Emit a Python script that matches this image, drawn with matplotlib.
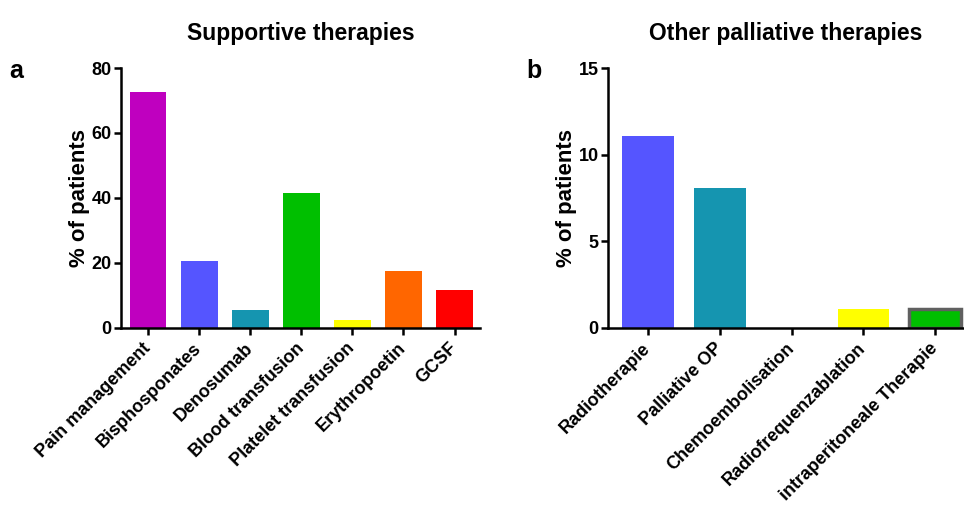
import matplotlib.pyplot as plt

plt.rcParams['font.family'] = ['Liberation Sans', 'DejaVu Sans']
plt.rcParams['font.weight'] = 'bold'

# Panel a: supportive therapies
supportive = ['Pain management', 'Bisphosponates', 'Denosumab', 'Blood transfusion',
              'Platelet transfusion', 'Erythropoetin', 'GCSF']
supportive_pct = [72.5, 20.5, 5.5, 41.4, 2.4, 17.6, 11.6]
supportive_colors = ['#BF00BF', '#5555FF', '#1595B0', '#00BF00', '#FFFF00', '#FF6600', '#FF0000']

# Panel b: other palliative therapies
palliative = ['Radiotherapie', 'Palliative OP', 'Chemoembolisation',
              'Radiofrequenzablation', 'intraperitoneale Therapie']
palliative_pct = [11.1, 8.1, 0, 1.1, 1.1]
palliative_colors = ['#5555FF', '#1595B0', '#FF0000', '#FFFF00', '#00BF00']
palliative_edges = ['none', 'none', 'none', 'none', '#606060']

fig = plt.figure(figsize=(9.64, 5.16), dpi=100)
ax1 = fig.add_axes([0.126, 0.365, 0.372, 0.503])
ax2 = fig.add_axes([0.631, 0.365, 0.369, 0.503])


def style_axis(ax, labels):
    for side in ['top', 'right']:
        ax.spines[side].set_visible(False)
    for side in ['left', 'bottom']:
        ax.spines[side].set_linewidth(1.8)
    ax.tick_params(width=1.8, length=5, labelsize=13, pad=2)
    ax.set_xticks(range(len(labels)))
    ax.set_xticklabels(labels, rotation=45, ha='right', va='center',
                       rotation_mode='anchor', fontsize=13)
    ax.tick_params(axis='x', pad=8)
    ax.set_ylabel('% of patients', fontsize=16, fontweight='bold')
    ax.yaxis.set_label_coords(-0.088, 0.5)


ax1.bar(range(len(supportive)), supportive_pct, width=0.72, color=supportive_colors)
ax1.set_xlim(-0.52, 6.5)
ax1.set_ylim(0, 80)
ax1.set_yticks([0, 20, 40, 60, 80])
style_axis(ax1, supportive)
ax1.set_title('Supportive therapies', fontsize=16.5, fontweight='bold', pad=20)

ax2.bar(range(len(palliative)), palliative_pct, width=0.72, color=palliative_colors,
        edgecolor=palliative_edges, linewidth=2.5)
ax2.set_xlim(-0.55, 4.4)
ax2.set_ylim(0, 15)
ax2.set_yticks([0, 5, 10, 15])
style_axis(ax2, palliative)
ax2.set_title('Other palliative therapies', fontsize=16.5, fontweight='bold', pad=20)

fig.text(0.010, 0.848, 'a', fontsize=18, fontweight='bold')
fig.text(0.546, 0.848, 'b', fontsize=18, fontweight='bold')

fig.savefig('out.png', dpi=100)
